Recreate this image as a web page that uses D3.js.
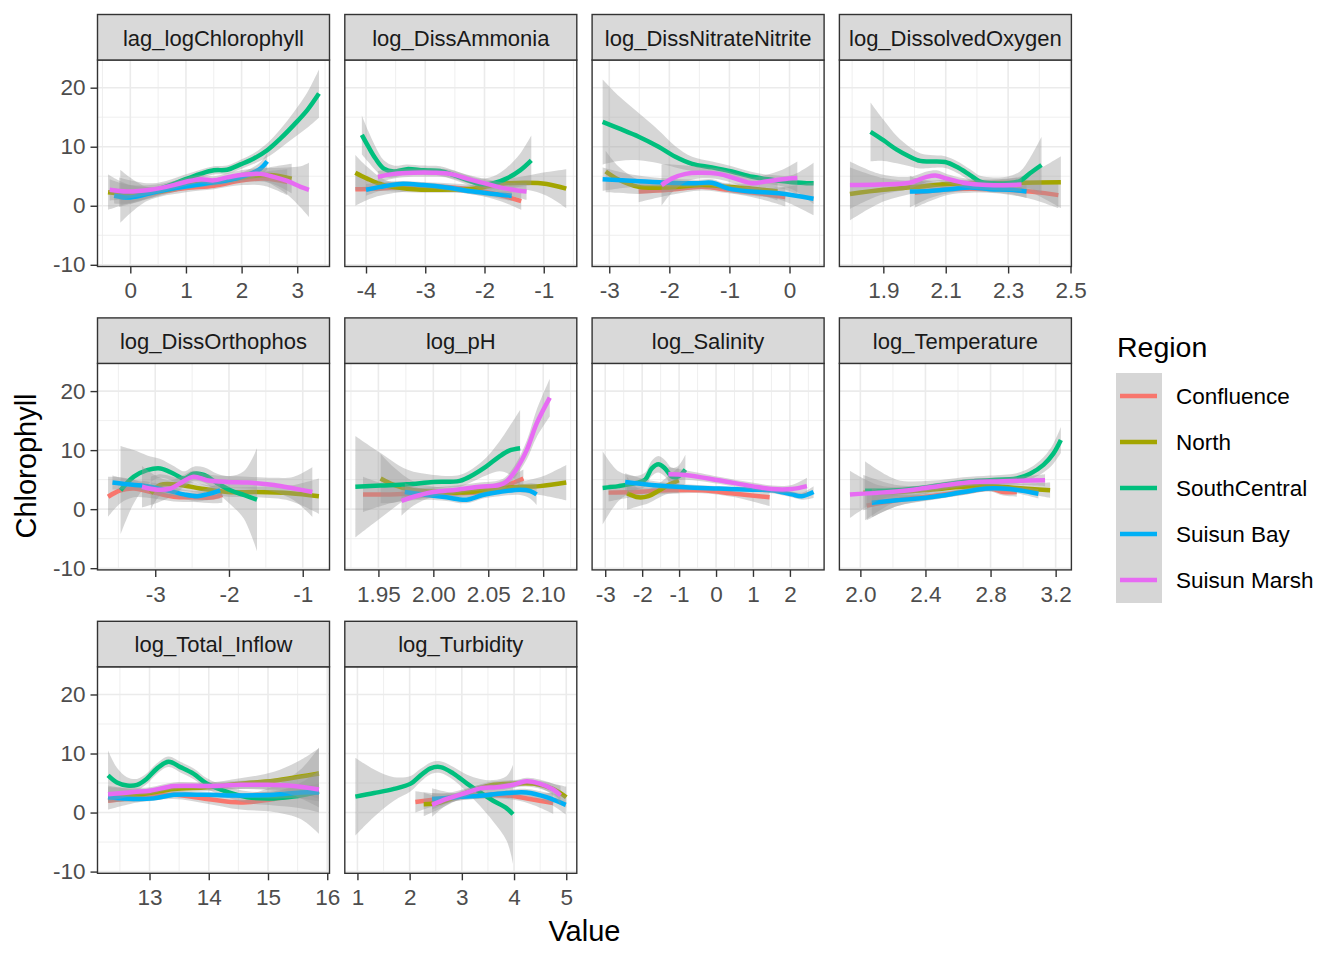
<!DOCTYPE html>
<html>
<head>
<meta charset="utf-8">
<script src="https://cdn.jsdelivr.net/npm/d3@7"></script>
<style>
  body { margin: 0; background: #fff; }
  text { font-family: "Liberation Sans", Arial, sans-serif; }
</style>
</head>
<body>
<svg id="chart" width="1344" height="960"></svg>
<script>
// regions and their ggplot hue colours
var regions = ["Confluence", "North", "SouthCentral", "Suisun Bay", "Suisun Marsh"];
var regionColors = ["#F8766D", "#A3A500", "#00BF7D", "#00B0F6", "#E76BF3"];

// facet titles and x tick values
var facetNames = ["lag_logChlorophyll", "log_DissAmmonia", "log_DissNitrateNitrite", "log_DissolvedOxygen",
                  "log_DissOrthophos", "log_pH", "log_Salinity", "log_Temperature",
                  "log_Total_Inflow", "log_Turbidity"];
var facetTicks = [[0, 1, 2, 3], [-4, -3, -2, -1], [-3, -2, -1, 0], [1.9, 2.1, 2.3, 2.5],
                  [-3, -2, -1], [1.95, 2.00, 2.05, 2.10], [-3, -2, -1, 0, 1, 2], [2.0, 2.4, 2.8, 3.2],
                  [13, 14, 15, 16], [1, 2, 3, 4, 5]];
var yTicks = [-10, 0, 10, 20];

// smooth fits: [x, fitted chlorophyll, half width of the band]
var lagChlorophyll = {
    "Confluence": [[-0.18,1.6,4.5],[0.3,2.0,1.2],[1.0,3.0,0.7],[1.5,3.4,0.6],[2.0,4.3,0.8],[2.4,4.6,1.2],[2.82,4.0,2.2]],
    "North": [[-0.40,2.3,3.0],[0,2.0,1.5],[0.5,2.4,0.8],[1.0,3.4,0.6],[1.5,4.0,0.6],[2.0,4.8,0.8],[2.5,5.2,1.3],[2.9,4.6,2.5]],
    "SouthCentral": [[-0.2,2.3,2.5],[0.4,2.6,1.2],[1.02,4.6,0.8],[1.26,5.4,0.7],[1.5,6.0,0.7],[1.74,6.1,0.7],[1.98,7.0,0.8],[2.22,8.0,0.9],[2.46,9.4,1.2],[2.7,11.4,1.6],[2.94,13.7,2.2],[3.18,16.2,3.0],[3.39,19.0,4.1]],
    "Suisun Bay": [[-0.29,1.7,1.3],[0,1.4,1.0],[0.48,2.4,0.6],[0.96,3.2,0.5],[1.38,3.8,0.5],[1.74,4.3,0.6],[2.1,5.2,0.8],[2.34,6.3,1.1],[2.46,7.5,1.4]],
    "Suisun Marsh": [[-0.37,2.7,1.8],[-0.06,2.4,1.2],[0.36,2.7,0.8],[0.78,3.5,0.7],[1.02,4.1,0.7],[1.26,4.5,0.7],[1.5,4.3,0.7],[1.74,4.8,0.7],[1.98,5.2,0.8],[2.34,5.4,1.0],[2.58,4.9,1.5],[2.82,4.2,2.3],[3.06,3.2,3.5],[3.21,2.7,4.6]]
};
var dissAmmonia = {
    "Confluence": [[-4.18,2.8,2.8],[-3.87,2.9,1.5],[-3.31,3.2,0.8],[-2.75,3.2,0.7],[-2.19,2.7,0.8],[-1.74,1.8,1.0],[-1.38,0.8,1.5]],
    "North": [[-4.18,5.6,3.0],[-3.98,4.6,2.0],[-3.7,3.5,1.0],[-3.31,2.9,0.6],[-2.75,2.7,0.5],[-2.19,2.9,0.6],[-1.74,3.7,0.7],[-1.29,3.9,1.2],[-0.95,3.7,2.0],[-0.62,2.9,3.3]],
    "SouthCentral": [[-4.07,12.0,3.3],[-3.96,10.0,2.6],[-3.84,8.0,2.0],[-3.7,6.3,1.4],[-3.53,5.8,1.0],[-3.31,6.2,0.8],[-3.03,6.0,0.8],[-2.75,5.9,0.8],[-2.52,5.2,0.8],[-2.3,4.4,0.8],[-2.08,3.7,0.9],[-1.85,3.8,1.2],[-1.63,4.6,1.8],[-1.4,6.0,2.8],[-1.21,7.7,4.2]],
    "Suisun Bay": [[-4.0,2.7,1.0],[-3.76,3.2,0.7],[-3.42,3.7,0.5],[-3.03,3.5,0.5],[-2.64,3.1,0.5],[-2.19,2.4,0.5],[-1.85,2.0,0.6],[-1.54,1.7,0.9]],
    "Suisun Marsh": [[-3.8,4.9,1.0],[-3.53,5.4,0.8],[-3.2,5.6,0.7],[-2.86,5.6,0.7],[-2.58,5.4,0.7],[-2.3,4.6,0.7],[-1.96,3.7,0.8],[-1.63,2.9,1.0],[-1.29,2.4,1.4]]
};
var dissNitrateNitrite = {
    "Confluence": [[-2.51,2.4,1.8],[-2.01,2.7,0.9],[-1.46,3.2,0.6],[-1.01,2.7,0.6],[-0.51,2.1,0.9],[-0.07,1.5,1.6]],
    "North": [[-3.06,5.8,3.5],[-2.84,4.4,2.2],[-2.51,3.2,1.2],[-2.01,3.1,0.7],[-1.46,3.5,0.6],[-1.01,3.2,0.6],[-0.62,2.9,0.8],[-0.2,2.4,1.5]],
    "SouthCentral": [[-3.11,14.2,7.2],[-2.84,13.1,5.5],[-2.51,11.7,4.0],[-2.18,10.0,2.8],[-1.9,8.3,1.8],[-1.62,7.1,1.2],[-1.29,6.5,1.0],[-0.96,5.8,0.9],[-0.62,4.9,0.8],[-0.29,4.4,0.8],[0.04,4.0,1.2],[0.40,3.8,3.5]],
    "Suisun Bay": [[-3.11,4.5,2.0],[-2.57,4.2,1.0],[-2.01,3.9,0.7],[-1.57,3.8,0.6],[-1.29,3.9,0.6],[-1.01,2.9,0.6],[-0.62,2.4,0.7],[-0.18,2.1,1.0],[0.40,1.2,2.8]],
    "Suisun Marsh": [[-2.13,3.5,3.5],[-1.96,4.6,2.4],[-1.73,5.4,1.4],[-1.51,5.6,1.0],[-1.18,5.4,0.9],[-0.9,4.6,0.9],[-0.62,3.8,1.0],[-0.4,4.1,1.1],[-0.12,4.5,1.6],[0.13,4.7,2.8]]
};
var dissolvedOxygen = {
    "Confluence": [[2.001,2.2,2.5],[2.103,2.8,1.0],[2.178,2.9,0.7],[2.263,2.8,0.7],[2.37,2.4,1.2],[2.461,1.8,2.2]],
    "North": [[1.793,2.0,4.5],[1.9,2.7,2.0],[2.007,3.2,1.0],[2.103,3.7,0.7],[2.21,3.8,0.6],[2.349,3.9,1.2],[2.469,4.0,4.4]],
    "SouthCentral": [[1.859,12.5,5.0],[1.9,11.1,3.5],[1.943,9.5,2.3],[1.985,8.3,1.6],[2.018,7.6,1.3],[2.05,7.5,1.1],[2.098,7.4,1.0],[2.135,6.6,1.0],[2.178,5.2,1.0],[2.21,4.1,1.0],[2.253,3.8,1.0],[2.295,3.8,1.1],[2.338,4.2,1.6],[2.37,5.5,2.6],[2.407,6.9,4.8]],
    "Suisun Bay": [[1.985,2.4,2.7],[2.05,2.5,1.2],[2.114,2.8,0.6],[2.178,3.1,0.5],[2.242,2.8,0.5],[2.306,2.7,0.7],[2.359,2.4,1.1]],
    "Suisun Marsh": [[1.793,3.5,4.0],[1.889,3.6,1.8],[1.985,3.9,1.0],[2.039,4.9,0.9],[2.071,5.1,0.9],[2.103,4.6,0.8],[2.156,3.9,0.8],[2.231,3.5,0.8],[2.343,3.6,1.2]]
};
var dissOrthophos = {
    "Confluence": [[-3.64,2.1,3.4],[-3.47,3.2,2.2],[-3.29,3.5,1.5],[-3.02,2.8,1.0],[-2.75,2.1,0.8],[-2.48,2.0,0.8],[-2.21,2.0,1.0],[-2.09,2.4,1.3]],
    "North": [[-3.06,2.7,2.8],[-2.93,4.1,1.8],[-2.66,4.1,1.0],[-2.39,3.5,0.8],[-2.02,2.9,0.8],[-1.62,2.9,0.9],[-1.17,2.7,1.3],[-0.78,2.2,3.0]],
    "SouthCentral": [[-3.47,3.2,7.5],[-3.29,5.5,4.5],[-3.11,6.6,2.5],[-2.93,6.9,1.6],[-2.75,6.0,1.3],[-2.61,5.2,1.2],[-2.48,6.0,1.2],[-2.34,5.8,1.3],[-2.16,4.4,1.6],[-1.98,3.2,2.4],[-1.8,2.4,4.0],[-1.62,1.6,8.7]],
    "Suisun Bay": [[-3.58,4.5,1.2],[-3.38,4.2,0.9],[-3.11,3.9,0.8],[-2.84,3.2,0.8],[-2.61,2.5,0.8],[-2.43,2.2,0.9],[-2.3,2.5,1.0],[-2.12,3.2,1.4]],
    "Suisun Marsh": [[-3.18,3.8,3.5],[-2.97,3.3,2.2],[-2.79,3.5,1.4],[-2.66,4.4,1.1],[-2.48,5.5,1.0],[-2.3,4.9,1.0],[-2.02,4.6,1.0],[-1.75,4.5,1.0],[-1.39,4.1,1.2],[-1.12,3.5,2.0],[-0.87,2.9,4.2]]
};
var pH = {
    "Confluence": [[1.936,2.5,3.0],[1.961,2.5,1.5],[1.991,2.7,0.8],[2.021,2.7,0.7],[2.042,2.9,0.8],[2.063,3.8,1.0],[2.082,5.2,1.5]],
    "North": [[1.952,5.2,4.2],[1.964,4.1,3.0],[1.982,3.2,1.5],[2.006,2.9,0.8],[2.024,2.8,0.6],[2.048,3.2,0.6],[2.072,3.7,0.8],[2.097,3.9,1.5],[2.121,4.5,3.0]],
    "SouthCentral": [[1.929,3.8,8.6],[1.952,4.0,5.5],[1.976,4.2,2.5],[2.0,4.6,1.2],[2.024,4.8,1.0],[2.036,5.8,1.1],[2.048,7.2,1.5],[2.06,8.9,2.5],[2.069,9.9,4.0],[2.079,10.3,6.5]],
    "Suisun Bay": [[1.974,2.9,1.5],[1.994,2.4,0.8],[2.012,2.0,0.6],[2.03,1.6,0.6],[2.045,2.4,0.6],[2.06,2.9,0.7],[2.079,3.3,0.9],[2.088,3.1,1.3],[2.094,2.5,1.8]],
    "Suisun Marsh": [[1.971,1.4,2.5],[1.982,2.1,1.5],[2.0,2.9,0.8],[2.021,3.3,0.7],[2.042,3.8,0.7],[2.06,4.1,0.8],[2.066,4.6,0.9],[2.075,6.6,1.1],[2.085,10.0,1.6],[2.094,14.5,2.3],[2.106,18.9,3.2]]
};
var salinity = {
    "Confluence": [[-2.91,2.8,1.5],[-2.19,2.9,0.8],[-1.29,3.2,0.6],[-0.38,3.2,0.5],[0.52,2.6,0.6],[1.45,2.0,1.5]],
    "North": [[-2.41,2.7,2.8],[-2.1,2.0,1.5],[-1.83,2.2,1.2],[-1.56,3.1,1.2],[-1.29,4.1,1.5],[-1.01,4.9,2.2]],
    "SouthCentral": [[-3.07,3.6,6.2],[-2.64,3.9,2.5],[-2.19,4.4,1.2],[-1.92,5.0,1.2],[-1.74,6.9,1.3],[-1.56,7.6,1.4],[-1.38,6.9,1.4],[-1.19,5.5,1.5],[-1.01,5.6,1.8],[-0.83,6.7,2.5]],
    "Suisun Bay": [[-2.46,4.6,1.5],[-1.74,4.1,0.7],[-0.83,3.7,0.5],[0.07,3.5,0.4],[0.97,3.3,0.4],[1.51,3.2,0.5],[2.05,2.5,0.5],[2.32,2.2,0.6],[2.64,2.9,1.0]],
    "Suisun Marsh": [[-1.29,5.9,1.2],[-0.83,5.8,0.8],[0.07,4.9,0.6],[0.97,3.9,0.6],[1.51,3.4,0.6],[2.05,3.4,0.7],[2.46,3.9,1.4]]
};
var temperature = {
    "Confluence": [[2.039,0.6,2.5],[2.223,1.5,1.0],[2.428,2.2,0.6],[2.633,2.9,0.5],[2.797,3.5,0.5],[2.879,2.9,0.6],[2.961,2.9,0.8]],
    "North": [[2.018,2.8,3.0],[2.223,2.9,1.2],[2.428,3.3,0.7],[2.633,3.8,0.6],[2.797,3.9,0.6],[2.961,3.6,0.7],[3.166,3.2,1.3]],
    "SouthCentral": [[2.029,3.1,5.0],[2.223,3.2,1.8],[2.428,3.8,1.0],[2.633,4.6,0.8],[2.797,4.9,0.8],[2.961,5.2,0.9],[3.043,6.0,1.0],[3.125,7.5,1.3],[3.186,9.4,1.7],[3.232,11.7,2.2]],
    "Suisun Bay": [[2.07,1.1,2.5],[2.223,1.5,1.0],[2.428,2.0,0.5],[2.633,2.9,0.5],[2.777,3.5,0.5],[2.92,3.4,0.5],[3.094,2.6,0.8]],
    "Suisun Marsh": [[1.936,2.5,4.0],[2.121,2.8,1.2],[2.326,3.3,0.6],[2.531,4.1,0.6],[2.695,4.6,0.6],[2.838,4.7,0.6],[2.982,4.8,0.7],[3.135,4.9,1.0]]
};
var totalInflow = {
    "Confluence": [[12.30,2.0,1.5],[12.84,2.6,0.8],[13.41,3.0,0.7],[13.97,2.3,0.8],[14.53,1.7,1.2],[15.1,2.3,2.2],[15.55,3.1,4.2],[15.86,3.7,7.3]],
    "North": [[12.30,3.1,1.5],[12.84,3.1,0.8],[13.41,4.0,0.7],[13.97,4.3,0.7],[14.53,4.9,0.9],[15.1,5.4,1.5],[15.55,6.1,2.8],[15.86,6.6,4.3]],
    "SouthCentral": [[12.30,6.3,4.2],[12.45,5.1,2.5],[12.62,4.6,1.4],[12.79,4.7,1.0],[12.95,5.7,0.9],[13.12,7.4,0.9],[13.32,8.6,0.9],[13.52,7.7,0.9],[13.74,6.6,0.9],[13.97,4.9,0.9],[14.31,3.5,0.9],[14.65,2.6,1.0],[15.1,2.4,1.2],[15.43,2.7,1.8],[15.66,3.1,2.6],[15.86,3.5,3.5]],
    "Suisun Bay": [[12.30,2.6,0.8],[12.73,2.3,0.5],[13.07,2.4,0.4],[13.41,3.0,0.4],[13.97,3.0,0.4],[14.53,2.9,0.4],[15.1,3.0,0.6],[15.55,3.4,1.0],[15.86,3.4,1.5]],
    "Suisun Marsh": [[12.30,3.1,1.2],[12.73,3.5,0.7],[13.01,3.7,0.6],[13.41,4.5,0.6],[13.97,4.5,0.6],[14.53,4.7,0.7],[14.98,4.7,0.9],[15.43,4.5,1.6],[15.86,3.9,3.0]]
};
var turbidity = {
    "Confluence": [[2.11,1.8,1.8],[2.59,2.3,0.9],[3.22,2.9,0.6],[3.86,2.9,0.6],[4.3,2.3,0.8],[4.75,1.6,1.8]],
    "North": [[2.27,1.4,2.0],[2.59,1.7,1.0],[3.1,3.4,0.6],[3.54,4.6,0.6],[3.98,4.9,0.6],[4.37,4.9,0.6],[4.75,4.0,0.9],[5.0,2.6,1.8]],
    "SouthCentral": [[0.96,2.7,6.6],[1.32,3.3,4.0],[1.7,4.0,2.0],[2.02,4.9,1.3],[2.21,6.3,1.1],[2.4,7.5,1.0],[2.59,7.7,1.0],[2.84,6.6,1.1],[3.1,4.9,1.5],[3.35,3.4,2.3],[3.6,2.0,3.5],[3.86,0.7,5.5],[3.98,-0.3,8.4]],
    "Suisun Bay": [[2.43,2.3,1.8],[2.9,2.6,0.6],[3.41,2.9,0.5],[3.86,3.3,0.5],[4.24,3.4,0.6],[4.62,2.6,0.8],[4.99,1.3,1.6]],
    "Suisun Marsh": [[2.43,1.3,2.0],[2.71,2.3,1.0],[3.1,3.4,0.7],[3.35,4.1,0.6],[3.67,4.3,0.6],[3.98,4.7,0.6],[4.24,5.3,0.6],[4.49,4.9,0.7],[4.75,3.9,1.0],[4.89,2.9,1.6]]
};
var facetSeries = [lagChlorophyll, dissAmmonia, dissNitrateNitrite, dissolvedOxygen,
                   dissOrthophos, pH, salinity, temperature, totalInflow, turbidity];

//Layout of the facet grid
var panelW = 232, panelH = 206.5, stripH = 45.5;
var firstLeft = 97.5, colStep = 247.3, firstTop = 60, rowStep = 303.4;

var svg = d3.select("#chart");

//ggplot style 5% expansion of a range
function expand(ext){
    var pad = (ext[1] - ext[0]) * 0.05;
    return [ext[0] - pad, ext[1] + pad];
}

//minor breaks halfway between the major breaks
function minorBreaks(ticks, dom){
    var step = ticks[1] - ticks[0];
    var out = [];
    for (var i = -1; i < ticks.length; i++){
        var v = ticks[0] + step * (i + 0.5);
        if (v > dom[0] && v < dom[1]) out.push(v);
    }
    return out;
}

//number of decimals used for the labels of a panel
function decimals(ticks){
    return d3.max(ticks, function(t){
        var s = String(t), i = s.indexOf(".");
        return i < 0 ? 0 : s.length - i - 1;
    });
}

//shared y scale from all the bands
var allY = [];
facetSeries.forEach(function(f){
    regions.forEach(function(r){
        f[r].forEach(function(p){ allY.push(p[1] - p[2], p[1] + p[2]); });
    });
});
var yDomain = expand(d3.extent(allY));

facetNames.forEach(function(name, i){
    var row = Math.floor(i / 4), col = i % 4;
    var left = firstLeft + col * colStep, top = firstTop + row * rowStep;
    var series = facetSeries[i];

    var allX = [];
    regions.forEach(function(r){ series[r].forEach(function(p){ allX.push(p[0]); }); });
    var xDomain = expand(d3.extent(allX));

    var x = d3.scaleLinear().domain(xDomain).range([0, panelW]);
    var y = d3.scaleLinear().domain(yDomain).range([panelH, 0]);

    var ticks = facetTicks[i].filter(function(t){ return t >= xDomain[0] && t <= xDomain[1]; });
    var dec = decimals(facetTicks[i]);

    var g = svg.append("g").attr("transform", "translate(" + left + "," + top + ")");

    //panel background and grid
    g.append("rect").attr("width", panelW).attr("height", panelH).attr("fill", "#fff");
    var grid = g.append("g").attr("stroke", "#EBEBEB").attr("fill", "none");
    minorBreaks(facetTicks[i], xDomain).forEach(function(v){
        grid.append("line").attr("x1", x(v)).attr("x2", x(v)).attr("y1", 0).attr("y2", panelH).attr("stroke-width", 0.8);
    });
    minorBreaks(yTicks, yDomain).forEach(function(v){
        grid.append("line").attr("y1", y(v)).attr("y2", y(v)).attr("x1", 0).attr("x2", panelW).attr("stroke-width", 0.8);
    });
    ticks.forEach(function(v){
        grid.append("line").attr("x1", x(v)).attr("x2", x(v)).attr("y1", 0).attr("y2", panelH).attr("stroke-width", 1.6);
    });
    yTicks.forEach(function(v){
        grid.append("line").attr("y1", y(v)).attr("y2", y(v)).attr("x1", 0).attr("x2", panelW).attr("stroke-width", 1.6);
    });

    //clip the smooths to the panel
    var clipId = "clip" + i;
    g.append("clipPath").attr("id", clipId)
        .append("rect").attr("width", panelW).attr("height", panelH);
    var plot = g.append("g").attr("clip-path", "url(#" + clipId + ")");

    var area = d3.area()
        .x(function(d){ return x(d[0]); })
        .y0(function(d){ return y(d[1] - d[2]); })
        .y1(function(d){ return y(d[1] + d[2]); })
        .curve(d3.curveCatmullRom.alpha(0.5));
    var line = d3.line()
        .x(function(d){ return x(d[0]); })
        .y(function(d){ return y(d[1]); })
        .curve(d3.curveCatmullRom.alpha(0.5));

    //ribbon then line for each region, like geom_smooth does
    regions.forEach(function(r, k){
        plot.append("path").attr("d", area(series[r]))
            .attr("fill", "#999999").attr("fill-opacity", 0.4);
        plot.append("path").attr("d", line(series[r]))
            .attr("fill", "none").attr("stroke", regionColors[k])
            .attr("stroke-width", 4.5).attr("stroke-linejoin", "round");
    });

    //panel border
    g.append("rect").attr("width", panelW).attr("height", panelH)
        .attr("fill", "none").attr("stroke", "#333333").attr("stroke-width", 1.4);

    //strip
    g.append("rect").attr("y", -stripH).attr("width", panelW).attr("height", stripH)
        .attr("fill", "#D9D9D9").attr("stroke", "#333333").attr("stroke-width", 1.4);
    g.append("text").attr("x", panelW / 2).attr("y", -stripH / 2).attr("dy", "0.38em")
        .attr("text-anchor", "middle").attr("font-size", 22).attr("fill", "#1A1A1A")
        .text(name);

    //x axis
    var xAxis = g.append("g").attr("transform", "translate(0," + panelH + ")")
        .call(d3.axisBottom(x).tickValues(ticks).tickSize(7).tickPadding(9)
            .tickFormat(function(d){ return d.toFixed(dec); }));
    xAxis.select(".domain").remove();
    xAxis.selectAll("line").attr("stroke", "#333333").attr("stroke-width", 1.4);
    xAxis.selectAll("text").attr("font-size", 22.5).attr("fill", "#4D4D4D")
        .attr("font-family", "Liberation Sans, Arial, sans-serif");

    //y axis only on the first column
    if (col == 0){
        var yAxis = g.append("g")
            .call(d3.axisLeft(y).tickValues(yTicks).tickSize(7).tickPadding(5)
                .tickFormat(function(d){ return String(d); }));
        yAxis.select(".domain").remove();
        yAxis.selectAll("line").attr("stroke", "#333333").attr("stroke-width", 1.4);
        yAxis.selectAll("text").attr("font-size", 22.5).attr("fill", "#4D4D4D")
            .attr("font-family", "Liberation Sans, Arial, sans-serif");
    }
});

//axis titles
svg.append("text").attr("x", firstLeft + (3 * colStep + panelW) / 2).attr("y", 941)
    .attr("text-anchor", "middle").attr("font-size", 29).attr("fill", "#000").text("Value");
svg.append("text").attr("transform", "translate(36,466) rotate(-90)")
    .attr("text-anchor", "middle").attr("font-size", 29).attr("fill", "#000").text("Chlorophyll");

//legend
var legend = svg.append("g").attr("transform", "translate(1116,0)");
legend.append("text").attr("x", 1).attr("y", 357).attr("font-size", 28.5).attr("fill", "#000").text("Region");
legend.append("rect").attr("x", 0).attr("y", 373).attr("width", 46).attr("height", 230)
    .attr("fill", "#999999").attr("fill-opacity", 0.4);
regions.forEach(function(r, k){
    var ky = 396 + k * 46;
    legend.append("line").attr("x1", 4).attr("x2", 41).attr("y1", ky).attr("y2", ky)
        .attr("stroke", regionColors[k]).attr("stroke-width", 4.5);
    legend.append("text").attr("x", 60).attr("y", ky).attr("dy", "0.36em")
        .attr("font-size", 22.5).attr("fill", "#000").text(r);
});
</script>
</body>
</html>
